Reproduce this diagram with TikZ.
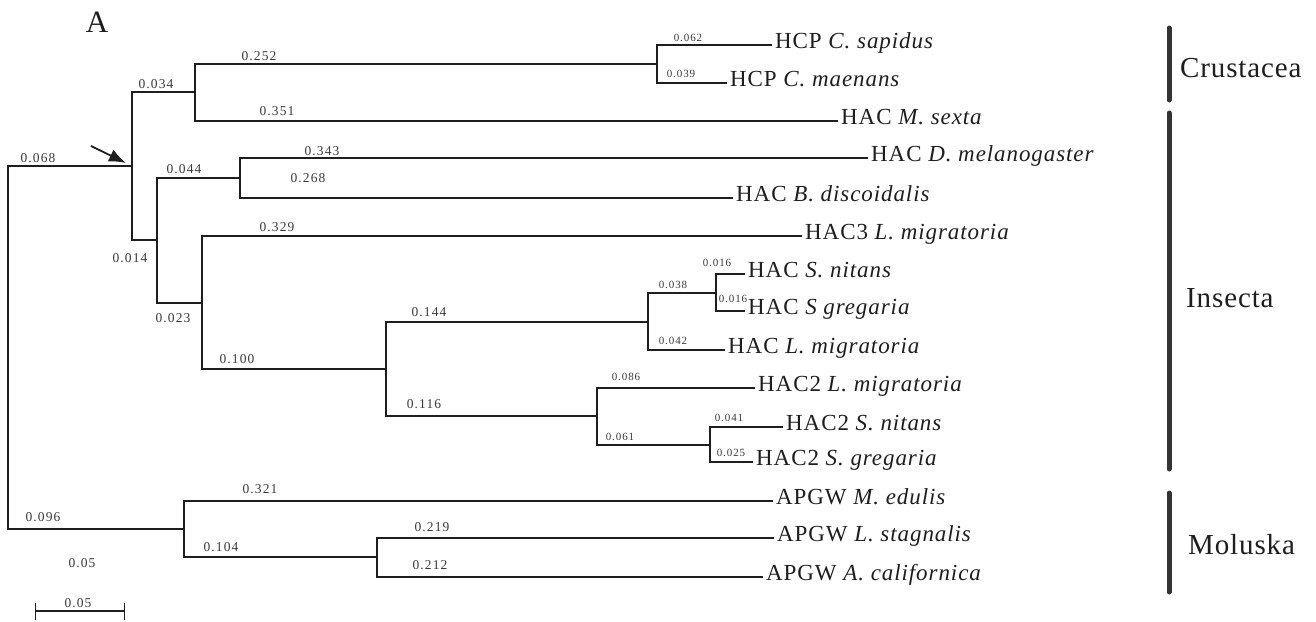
\documentclass[tikz,border=0pt]{standalone}
\usepackage{fontspec}
\setmainfont{Liberation Serif}
\newfontfamily\leaffont[LetterSpace=4]{Liberation Serif}
\newfontfamily\lenfont[LetterSpace=8]{Liberation Serif}
\newfontfamily\groupfont[LetterSpace=3]{Liberation Serif}
\usetikzlibrary{arrows.meta}

\begin{document}
\begin{tikzpicture}[x=1pt, y=-1pt,
    branch/.style={line width=1.4pt, draw=lineColour},
    leaf/.style={anchor=west, inner xsep=3pt, inner ysep=0pt, text height=0.68em, text depth=0pt,
        text=lineColour, font=\leaffont\fontsize{23}{25}\selectfont},
    lenlab/.style={inner sep=0pt, text=labelColour, font=\lenfont\fontsize{13.5}{14}\selectfont},
    smalllab/.style={lenlab, font=\lenfont\fontsize{11}{12}\selectfont},
    groupbar/.style={line width=5pt, line cap=round, draw=barColour},
    grouplab/.style={anchor=west, inner sep=0pt, text=lineColour, font=\groupfont\fontsize{29}{32}\selectfont}]
    % Define colours
    \definecolor{lineColour}{HTML}{1E1E1E}
    \definecolor{labelColour}{HTML}{3A3A3A}
    \definecolor{barColour}{HTML}{333333}

    % Fix the page size
    \useasboundingbox (0,0) rectangle (1316,621);

    % Panel letter
    \node[inner sep=0pt, text=lineColour, font=\fontsize{31}{33}\selectfont] (panel) at (97,22) {A};

    % Define coordinates for the inner nodes of the tree
    \coordinate (root) at (8,348);
    \coordinate (n1) at (132,166);
    \coordinate (n2) at (195,92);
    \coordinate (n3) at (657,64);
    \coordinate (n4) at (157,240);
    \coordinate (n5) at (240,178);
    \coordinate (n6) at (202,303);
    \coordinate (n7) at (386,369);
    \coordinate (n8) at (648,322);
    \coordinate (n9) at (716,293);
    \coordinate (n10) at (597,416);
    \coordinate (n11) at (710,445);
    \coordinate (n12) at (184,529);
    \coordinate (n13) at (377,557);

    % Leaves
    \node[leaf] (sapidus) at (772,45) {HCP \textit{C. sapidus}};
    \node[leaf] (maenans) at (727,83) {HCP \textit{C. maenans}};
    \node[leaf] (sexta) at (838,121) {HAC \textit{M. sexta}};
    \node[leaf] (melano) at (868,158) {HAC \textit{D. melanogaster}};
    \node[leaf] (discoid) at (733,198) {HAC \textit{B. discoidalis}};
    \node[leaf] (lmig3) at (802,236) {HAC3 \textit{L. migratoria}};
    \node[leaf] (snit) at (745,274) {HAC \textit{S. nitans}};
    \node[leaf] (sgreg) at (745,311) {HAC \textit{S gregaria}};
    \node[leaf] (lmig) at (725,350) {HAC \textit{L. migratoria}};
    \node[leaf] (lmig2) at (755,388) {HAC2 \textit{L. migratoria}};
    \node[leaf] (snit2) at (783,427) {HAC2 \textit{S. nitans}};
    \node[leaf] (sgreg2) at (753,462) {HAC2 \textit{S. gregaria}};
    \node[leaf] (edulis) at (773,501) {APGW \textit{M. edulis}};
    \node[leaf] (stagn) at (774,538) {APGW \textit{L. stagnalis}};
    \node[leaf] (calif) at (763,577) {APGW \textit{A. californica}};

    % Draw the branches
    \draw[branch] (root) |- (n1);
    \draw[branch] (root) |- (n12);
    \draw[branch] (n1) |- (n2);
    \draw[branch] (n1) |- (n4);
    \draw[branch] (n2) |- (n3);
    \draw[branch] (n2) |- (sexta.west);
    \draw[branch] (n3) |- (sapidus.west);
    \draw[branch] (n3) |- (maenans.west);
    \draw[branch] (n4) |- (n5);
    \draw[branch] (n4) |- (n6);
    \draw[branch] (n5) |- (melano.west);
    \draw[branch] (n5) |- (discoid.west);
    \draw[branch] (n6) |- (lmig3.west);
    \draw[branch] (n6) |- (n7);
    \draw[branch] (n7) |- (n8);
    \draw[branch] (n7) |- (n10);
    \draw[branch] (n8) |- (n9);
    \draw[branch] (n8) |- (lmig.west);
    \draw[branch] (n9) |- (snit.west);
    \draw[branch] (n9) |- (sgreg.west);
    \draw[branch] (n10) |- (lmig2.west);
    \draw[branch] (n10) |- (n11);
    \draw[branch] (n11) |- (snit2.west);
    \draw[branch] (n11) |- (sgreg2.west);
    \draw[branch] (n12) |- (edulis.west);
    \draw[branch] (n12) |- (n13);
    \draw[branch] (n13) |- (stagn.west);
    \draw[branch] (n13) |- (calif.west);

    % Branch lengths
    \node[lenlab] (l068) at (38,158) {0.068};
    \node[lenlab] (l034) at (156,84) {0.034};
    \node[lenlab] (l252) at (259,56) {0.252};
    \node[lenlab] (l351) at (277,111) {0.351};
    \node[lenlab] (l343) at (322,151) {0.343};
    \node[lenlab] (l044) at (184,169) {0.044};
    \node[lenlab] (l268) at (308,178) {0.268};
    \node[lenlab] (l329) at (277,227) {0.329};
    \node[lenlab] (l014) at (130,258) {0.014};
    \node[lenlab] (l023) at (173,318) {0.023};
    \node[lenlab] (l100) at (237,359) {0.100};
    \node[lenlab] (l144) at (429,312) {0.144};
    \node[lenlab] (l116) at (424,404) {0.116};
    \node[lenlab] (l096) at (43,517) {0.096};
    \node[lenlab] (l321) at (260,489) {0.321};
    \node[lenlab] (l104) at (221,547) {0.104};
    \node[lenlab] (l219) at (432,527) {0.219};
    \node[lenlab] (l212) at (430,565) {0.212};
    \node[smalllab] (l062) at (688,38) {0.062};
    \node[smalllab] (l039) at (681,74) {0.039};
    \node[smalllab] (l016a) at (717,263) {0.016};
    \node[smalllab] (l038) at (673,285) {0.038};
    \node[smalllab] (l016b) at (733,299) {0.016};
    \node[smalllab] (l042) at (673,341) {0.042};
    \node[smalllab] (l086) at (626,377) {0.086};
    \node[smalllab] (l061) at (620,437) {0.061};
    \node[smalllab] (l041) at (729,418) {0.041};
    \node[smalllab] (l025) at (731,453) {0.025};

    % Arrow at the insect node
    \coordinate (arrowTail) at (91,146);
    \coordinate (arrowTip) at (126,163);
    \draw[line width=1.8pt, lineColour, -{Latex[length=17pt, width=13pt]}] (arrowTail) -- (arrowTip);

    % Scale bar
    \node[lenlab] (scaleText) at (82,563) {0.05};
    \coordinate (scaleL) at (35,611);
    \coordinate (scaleR) at (125,611);
    \draw[branch, {Bar[width=17pt]}-{Bar[width=17pt]}] (scaleL) -- (scaleR);
    \node[lenlab] (scaleLab) at (78,603) {0.05};

    % Group bars
    \draw[groupbar] (1169,28) -- (1169,100);
    \draw[groupbar] (1169,113) -- (1169,469);
    \draw[groupbar] (1169,493) -- (1169,592);
    \node[grouplab] (crust) at (1180,68) {Crustacea};
    \node[grouplab] (insect) at (1186,298) {Insecta};
    \node[grouplab] (mollusc) at (1188,545) {Moluska};

\end{tikzpicture}
\end{document}
